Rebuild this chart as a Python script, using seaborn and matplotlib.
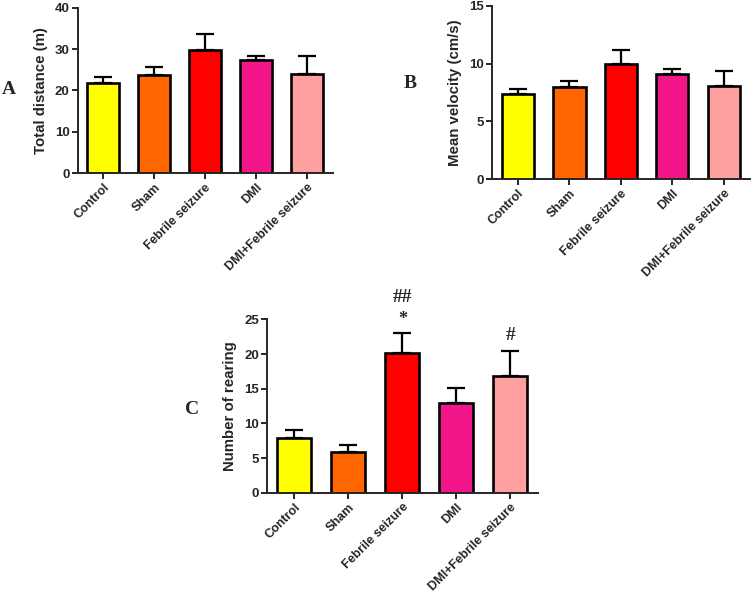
import numpy as np
import pandas as pd
import seaborn as sns
import matplotlib.pyplot as plt

# Data (mean and SEM, upper error only)
groups = ["Control", "Sham", "Febrile seizure", "DMI", "DMI+Febrile seizure"]
colors = ["#FFFF00", "#FF6600", "#FF0000", "#F2168A", "#FFA0A0"]

distance_mean = [21.9, 23.8, 29.8, 27.3, 24.0]
distance_sem = [1.3, 1.8, 3.8, 1.1, 4.4]

velocity_mean = [7.4, 8.0, 9.95, 9.15, 8.05]
velocity_sem = [0.4, 0.5, 1.25, 0.35, 1.35]

rearing_mean = [7.9, 5.9, 20.2, 12.9, 16.9]
rearing_sem = [1.2, 0.95, 2.8, 2.2, 3.55]

sns.set_style("ticks")
plt.rcParams["font.family"] = ["Liberation Sans", "DejaVu Sans"]
plt.rcParams["font.weight"] = "bold"

fig = plt.figure(figsize=(7.55, 5.99), dpi=100)

# axes positions in figure fractions
ax_a = fig.add_axes([0.103, 0.711, 0.338, 0.276])
ax_b = fig.add_axes([0.652, 0.701, 0.342, 0.289])
ax_c = fig.add_axes([0.354, 0.177, 0.359, 0.290])


def bar_panel(ax, mean, sem, ylabel, ymax, step):
    df = pd.DataFrame({"group": groups, "value": mean})
    sns.barplot(data=df, x="group", y="value", hue="group", palette=colors,
                order=groups, hue_order=groups, legend=False, width=0.63,
                saturation=1, edgecolor="black", linewidth=1.9, ax=ax,
                errorbar=None)
    x = np.arange(len(groups))
    ax.errorbar(x, mean, yerr=[np.zeros(len(sem)), sem], fmt="none",
                ecolor="black", elinewidth=1.6, capsize=6.5, capthick=1.6,
                zorder=1)
    ax.set_xlim(-0.5, 4.52)
    ax.set_ylim(0, ymax)
    ax.set_yticks(np.arange(0, ymax + 0.1, step))
    ax.set_xlabel("")
    ax.set_ylabel(ylabel, fontsize=10.8, fontweight="bold", labelpad=5)
    ax.set_xticks(x)
    ax.set_xticklabels(groups, rotation=45, ha="right", rotation_mode="anchor",
                       fontsize=9, fontweight="bold")
    for lab in ax.get_yticklabels():
        lab.set_fontsize(9.5)
        lab.set_fontweight("bold")
    for side in ["top", "right"]:
        ax.spines[side].set_visible(False)
    for side in ["left", "bottom"]:
        ax.spines[side].set_linewidth(1.4)
    ax.tick_params(width=1.4, length=4, pad=2)


bar_panel(ax_a, distance_mean, distance_sem, "Total distance (m)", 40, 10)
bar_panel(ax_b, velocity_mean, velocity_sem, "Mean velocity (cm/s)", 15, 5)
bar_panel(ax_c, rearing_mean, rearing_sem, "Number of rearing", 25, 5)

# significance marks on panel C
serif = ["Liberation Serif", "DejaVu Serif"]
ax_c.text(2, 28.2, "##", ha="center", va="center", fontsize=14,
          fontweight="bold", family=serif, clip_on=False)
ax_c.text(2, 25.0, "*", ha="center", va="center", fontsize=13,
          fontweight="bold", family=serif, clip_on=False)
ax_c.text(4, 22.7, "#", ha="center", va="center", fontsize=14,
          fontweight="bold", family=serif, clip_on=False)

# panel letters
fig.text(9 / 755, 1 - 89 / 599, "A", ha="center", va="center", fontsize=14,
         fontweight="bold", family=serif)
fig.text(410 / 755, 1 - 83 / 599, "B", ha="center", va="center", fontsize=14,
         fontweight="bold", family=serif)
fig.text(192 / 755, 1 - 409 / 599, "C", ha="center", va="center", fontsize=14,
         fontweight="bold", family=serif)

plt.savefig("out.png", dpi=100)
